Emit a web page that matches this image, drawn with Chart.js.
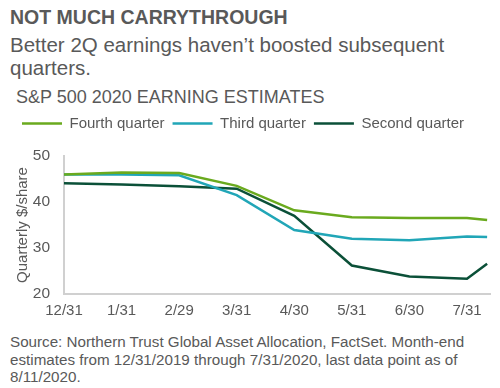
<!DOCTYPE html>
<html>
<head>
<meta charset="utf-8">
<script src="https://cdn.jsdelivr.net/npm/chart.js@4.4.0/dist/chart.umd.min.js"></script>
<style>
    body { margin:0; background:#fff; font-family:"Liberation Sans", Arial, sans-serif; color:#595959; }
    #wrap { position:relative; width:500px; height:388px; overflow:hidden; }
    .txt { position:absolute; left:10px; white-space:nowrap; }
    #title { top:6px; font-size:19.5px; font-weight:bold; }
    #sub { top:33px; font-size:20.5px; line-height:23px; }
    #ctitle { top:87px; left:16px; font-size:18px; }
    #source { top:333px; font-size:15.2px; line-height:17.5px; }
    #box { position:absolute; left:0; top:108px; width:500px; height:220px; }
</style>
</head>
<body>
<div id="wrap">
    <div class="txt" id="title">NOT MUCH CARRYTHROUGH</div>
    <div class="txt" id="sub">Better 2Q earnings haven’t boosted subsequent<br>quarters.</div>
    <div class="txt" id="ctitle">S&amp;P 500 2020 EARNING ESTIMATES</div>
    <div id="box"><canvas id="graph1"></canvas></div>
    <div class="txt" id="source">Source: Northern Trust Global Asset Allocation, FactSet. Month-end<br>estimates from 12/31/2019 through 7/31/2020, last data point as of<br>8/11/2020.</div>
</div>
<script>
// month-end labels, last point is 8/11 (about a third of a month past 7/31)
const month_labels = ["12/31", "1/31", "2/29", "3/31", "4/30", "5/31", "6/30", "7/31"];
const x_pos        = [0, 1, 2, 3, 4, 5, 6, 7, 7.35];

const q4_values = [46.0, 46.4, 46.3, 43.5, 38.2, 36.7, 36.5, 36.5, 36.1];
const q3_values = [46.0, 46.0, 45.8, 41.5, 33.9, 32.0, 31.7, 32.5, 32.4];
const q2_values = [44.1, 43.8, 43.4, 42.9, 37.0, 26.2, 23.8, 23.3, 26.6];

const y_ticks = [20, 30, 40, 50];

function to_points(values){
    let pts = [];
    for (let i = 0; i < values.length; i++){
        pts.push({x: x_pos[i], y: values[i]});
    }
    return pts;
}

// leave some room between the legend and the plot
const legend_gap = {
    id: 'legend_gap',
    beforeInit(chart){
        const fit = chart.legend.fit;
        chart.legend.fit = function(){
            fit.bind(chart.legend)();
            this.height += 15;
        };
    }
};

window.addEventListener("load", function (){
    draw_chart();
});

function draw_chart(){
    const grey = "#595959";
    const ctx = document.getElementById("graph1").getContext('2d');
    const myChart = new Chart(ctx, {
        type: 'line',
        data: {
            datasets: [
                {
                    label: "Fourth quarter",
                    data: to_points(q4_values),
                    borderColor: '#6aaa1e',
                    backgroundColor: '#6aaa1e',
                    borderWidth: 2.5,
                    pointRadius: 0,
                },
                {
                    label: "Third quarter",
                    data: to_points(q3_values),
                    borderColor: '#21a6b7',
                    backgroundColor: '#21a6b7',
                    borderWidth: 2.5,
                    pointRadius: 0,
                },
                {
                    label: "Second quarter",
                    data: to_points(q2_values),
                    borderColor: '#0b5038',
                    backgroundColor: '#0b5038',
                    borderWidth: 2.5,
                    pointRadius: 0,
                },
            ]
        },
        plugins: [legend_gap],
        options: {
            responsive: true,
            maintainAspectRatio: false,
            animation: false,
            layout: { padding: { left: 14, right: 10, top: 0, bottom: 0 } },
            plugins: {
                legend: {
                    position: 'top',
                    align: 'start',
                    labels: {
                        usePointStyle: true,
                        pointStyle: 'line',
                        pointStyleWidth: 40,
                        boxHeight: 15,
                        padding: 8,
                        color: grey,
                        font: { family: "Liberation Sans", size: 15 },
                    },
                },
                tooltip: { enabled: false },
            },
            scales: {
                x: {
                    type: 'linear',
                    min: 0,
                    max: 7.4,
                    afterBuildTicks: function(axis){
                        axis.ticks = month_labels.map((l, i) => ({value: i}));
                    },
                    ticks: {
                        autoSkip: false,
                        maxRotation: 0,
                        padding: 8,
                        color: grey,
                        font: { family: "Liberation Sans", size: 15 },
                        callback: function(v){ return month_labels[v]; },
                    },
                    grid: { display: false, drawTicks: false },
                    border: { display: true, color: '#d0d0d0', width: 2 },
                },
                y: {
                    min: 20,
                    max: 50,
                    afterBuildTicks: function(axis){
                        axis.ticks = y_ticks.map(v => ({value: v}));
                    },
                    afterFit: function(axis){
                        axis.width = 50;
                    },
                    ticks: {
                        padding: 14,
                        color: grey,
                        font: { family: "Liberation Sans", size: 15.5 },
                    },
                    grid: { display: false, drawTicks: false },
                    border: { display: true, color: '#d0d0d0', width: 2 },
                    title: {
                        display: true,
                        text: "Quarterly $/share",
                        color: grey,
                        padding: { top: 0, bottom: 0 },
                        font: { family: "Liberation Sans", size: 15 },
                    },
                },
            },
        },
    });
}
</script>
</body>
</html>
